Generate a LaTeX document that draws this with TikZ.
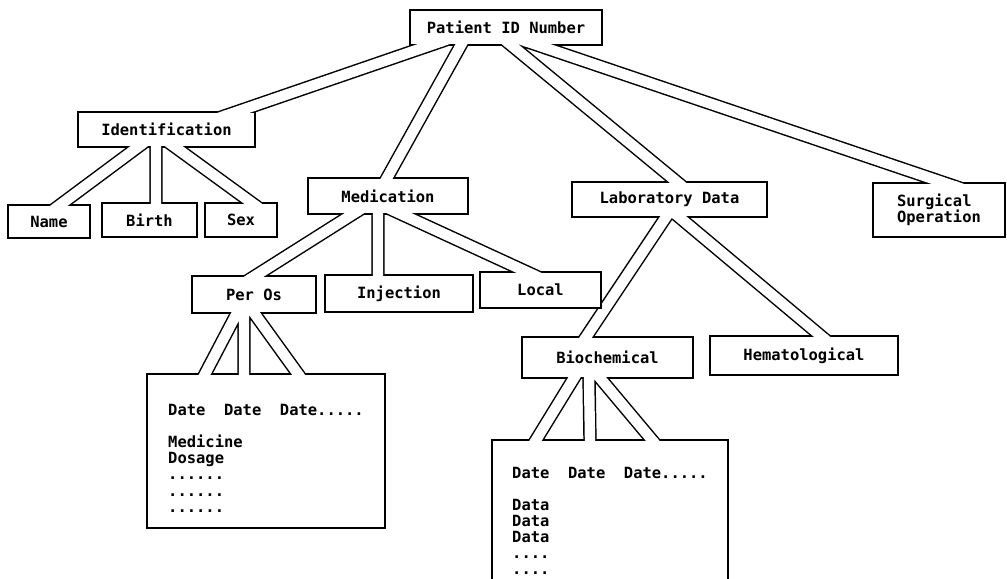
\documentclass[tikz,border=0pt]{standalone}
\usepackage{fontspec}
\setmonofont{DejaVu Sans Mono}
\usetikzlibrary{calc, backgrounds}

\begin{document}
\begin{tikzpicture}[
    % GLOBAL CFG
    x=0.025cm, y=-0.025cm,
    font=\ttfamily\bfseries\fontsize{11}{11.4}\selectfont,
    % Styles
    box/.style={% For the record boxes
        rectangle,
        draw,
        fill=white,
        line width=1.2pt,
        outer sep=0pt,
        inner sep=0pt,
        },
    sheet/.style={% For the data sheets at the bottom
        box,
        align=left,
        },
    band/.style={% Wide double connectors
        draw,
        line width=1.05pt,
        double=white,
        double distance=7.4pt,
        },
    bandgap/.style={% Opens the box border where a band comes in
        draw=white,
        line width=7.4pt,
        },
    ]

    \useasboundingbox (0,0) rectangle (1007,579);

    % Draw the root
    \node [box, minimum width=4.8cm, minimum height=0.875cm] (pid) at (506,27.5) {Patient ID Number};

    % Draw the first level
    \node [box, minimum width=4.425cm, minimum height=0.875cm] (ident) at (166.5,129.5) {Identification};
    \node [box, minimum width=4cm, minimum height=0.9cm] (medic) at (388,196) {Medication};
    \node [box, minimum width=4.875cm, minimum height=0.875cm] (lab) at (669.5,199.5) {Laboratory Data};
    \node [box, align=left, minimum width=3.3cm, minimum height=1.35cm] (surg) at (939,210) {Surgical\\Operation};

    % Draw the second level
    \node [box, minimum width=2.05cm, minimum height=0.825cm] (name) at (49,221.5) {Name};
    \node [box, minimum width=2.375cm, minimum height=0.85cm] (birth) at (149.5,220) {Birth};
    \node [box, minimum width=1.8cm, minimum height=0.85cm] (sex) at (241,220) {Sex};

    \node [box, minimum width=3.1cm, minimum height=0.925cm] (peros) at (254,294.5) {Per Os};
    \node [box, minimum width=3.7cm, minimum height=0.925cm] (inject) at (399,293.5) {Injection};
    \node [box, minimum width=3.025cm, minimum height=0.9cm] (local) at (540.5,290) {Local};

    \node [box, minimum width=4.275cm, minimum height=1.025cm] (bioch) at (607.5,357.5) {Biochemical};
    \node [box, minimum width=4.7cm, minimum height=0.975cm] (hemat) at (804,355.5) {Hematological};

    % Draw the data sheets
    \node [sheet, minimum width=5.95cm, minimum height=3.85cm] (medsheet) at (266,451)
        {\mbox{}\\[7pt]Date~~Date~~Date.....\\[11.4pt]Medicine\\Dosage\\......\\......\\......};
    \node [sheet, minimum width=5.9cm, minimum height=4.05cm] (datasheet) at (610,521)
        {Date~~Date~~Date.....\\[11.4pt]Data\\Data\\Data\\....\\....};

    % Where the bands leave and reach the boxes
    \foreach \a/\b/\da/\db [count=\i] in {
        pid/ident/-75/69.5, pid/medic/-45/-1, pid/lab/5/7.5, pid/surg/31/6,
        ident/name/-28.5/11, ident/birth/-10.5/6.5, ident/sex/8.5/11,
        medic/peros/-35/1, medic/inject/-10/-21, medic/local/13/-13.5,
        lab/bioch/-3.5/-21.5, lab/hemat/9.5/17,
        peros/medsheet/-17/-61, peros/medsheet/-10/-22, peros/medsheet/0/32,
        bioch/datasheet/-33.5/-74, bioch/datasheet/-18.5/-20, bioch/datasheet/-7.5/42} {
        \coordinate (from\i) at ($(\a.south)+(\da,0)$);
        \coordinate (to\i) at ($(\b.north)+(\db,0)$);
    }

    % Draw the bands behind the boxes
    \begin{pgfonlayer}{background}
        \fill [white] (0,0) rectangle (1007,579);
        \draw [band] \foreach \i in {1,...,18} {($(from\i)!-0.6cm!(to\i)$) -- ($(to\i)!-0.6cm!(from\i)$)};
    \end{pgfonlayer}

    % Open the borders under the bands
    \begin{scope}
        \clip \foreach \n in {pid,ident,medic,lab,peros,bioch} {([yshift=-1pt]\n.south west) rectangle ([yshift=1pt]\n.south east)}
              \foreach \n in {ident,medic,lab,surg,name,birth,sex,peros,inject,local,bioch,hemat,medsheet,datasheet} {([yshift=-1pt]\n.north west) rectangle ([yshift=1pt]\n.north east)};
        \draw [bandgap] \foreach \i in {1,...,18} {($(from\i)!-0.6cm!(to\i)$) -- ($(to\i)!-0.6cm!(from\i)$)};
    \end{scope}

\end{tikzpicture}
\end{document}
